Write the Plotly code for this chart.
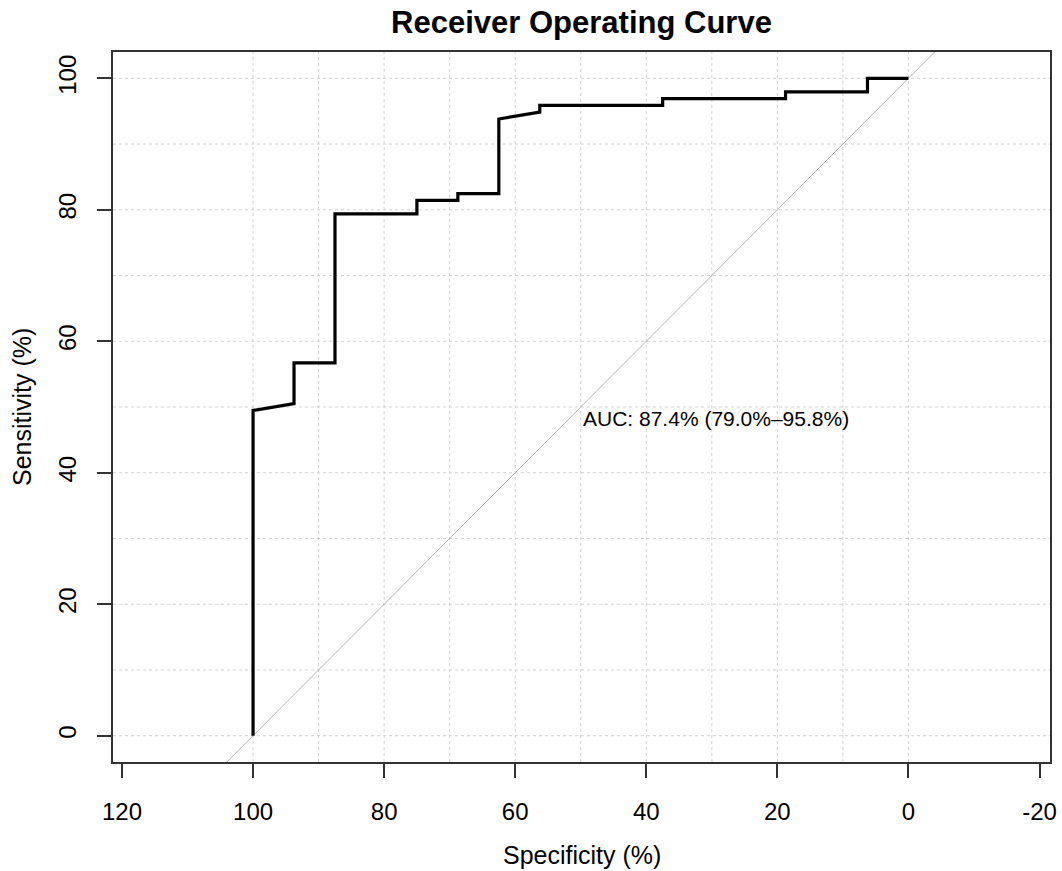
import plotly.graph_objects as go

# ROC curve coordinates (percent): specificity on x (reversed), sensitivity on y
specificity = [100, 100, 93.75, 93.75, 87.5, 87.5, 75, 75, 68.75, 68.75, 62.5, 62.5,
               56.25, 56.25, 37.5, 37.5, 18.75, 18.75, 6.25, 6.25, 0]
sensitivity = [0, 49.48, 50.52, 56.70, 56.70, 79.38, 79.38, 81.44, 81.44, 82.47, 82.47, 93.81,
               94.85, 95.88, 95.88, 96.91, 96.91, 97.94, 97.94, 100, 100]

# Chance diagonal (sensitivity = 100 - specificity), extended past the frame
diag_spec = [110, -10]
diag_sens = [-10, 110]

x_ticks = [120, 100, 80, 60, 40, 20, 0, -20]
y_ticks = [0, 20, 40, 60, 80, 100]
grid_vals = [0, 10, 20, 30, 40, 50, 60, 70, 80, 90, 100]

auc_label = "AUC: 87.4% (79.0%\u201395.8%)"
auc_pos = (50, 48.2)

FONT = "Liberation Sans, Arial, sans-serif"

fig = go.Figure()

fig.add_trace(go.Scatter(
    x=diag_spec, y=diag_sens, mode="lines",
    line=dict(color="#b4b4b4", width=1), hoverinfo="skip", showlegend=False,
))
fig.add_trace(go.Scatter(
    x=specificity, y=sensitivity, mode="lines",
    line=dict(color="black", width=3.2), showlegend=False,
))

# dotted grid every 10 %
shapes = []
for v in grid_vals:
    shapes.append(dict(type="line", xref="x", yref="paper", x0=v, x1=v, y0=0, y1=1,
                       line=dict(color="#d3d3d3", width=1, dash="3px,3px"), layer="below"))
    shapes.append(dict(type="line", xref="paper", yref="y", x0=0, x1=1, y0=v, y1=v,
                       line=dict(color="#d3d3d3", width=1, dash="3px,3px"), layer="below"))

annotations = [
    dict(text=auc_label, x=auc_pos[0], y=auc_pos[1], xref="x", yref="y",
         xanchor="left", yanchor="middle", showarrow=False,
         font=dict(family=FONT, size=21, color="black")),
    dict(text="Specificity (%)", x=0.5, y=0, xref="paper", yref="paper",
         xanchor="center", yanchor="middle", yshift=-93, showarrow=False,
         font=dict(family=FONT, size=25, color="black")),
    dict(text="Sensitivity (%)", x=0, y=0.5, xref="paper", yref="paper",
         xanchor="center", yanchor="middle", xshift=-91, textangle=-90, showarrow=False,
         font=dict(family=FONT, size=25, color="black")),
]

fig.update_layout(
    width=1062, height=871,
    margin=dict(l=113, r=12, t=52, b=109, autoexpand=False),
    paper_bgcolor="white", plot_bgcolor="white",
    title=dict(text="<b>Receiver Operating Curve</b>", x=0.5, xref="paper",
               y=1 - 22 / 871, yref="container", xanchor="center", yanchor="middle",
               font=dict(family=FONT, size=31, color="black")),
    shapes=shapes,
    annotations=annotations,
    font=dict(family=FONT, color="black"),
)

fig.update_xaxes(
    range=[121.37, -21.6], tickvals=x_ticks, ticktext=[str(t) for t in x_ticks],
    showgrid=False, zeroline=False, automargin=False,
    showline=True, mirror=True, linecolor="#333333", linewidth=1.5,
    ticks="outside", ticklen=14, tickwidth=1.5, tickcolor="#333333",
    tickfont=dict(family=FONT, size=24, color="black"), ticklabelstandoff=13,
)
fig.update_yaxes(
    range=[-4, 104], tickvals=y_ticks, ticktext=[str(t) for t in y_ticks],
    showgrid=False, zeroline=False, automargin=False,
    showline=True, mirror=True, linecolor="#333333", linewidth=1.5,
    ticks="outside", ticklen=14, tickwidth=1.5, tickcolor="#333333",
    tickangle=-90,
    tickfont=dict(family=FONT, size=24, color="black"), ticklabelstandoff=12,
)

fig.write_html("out.html")
